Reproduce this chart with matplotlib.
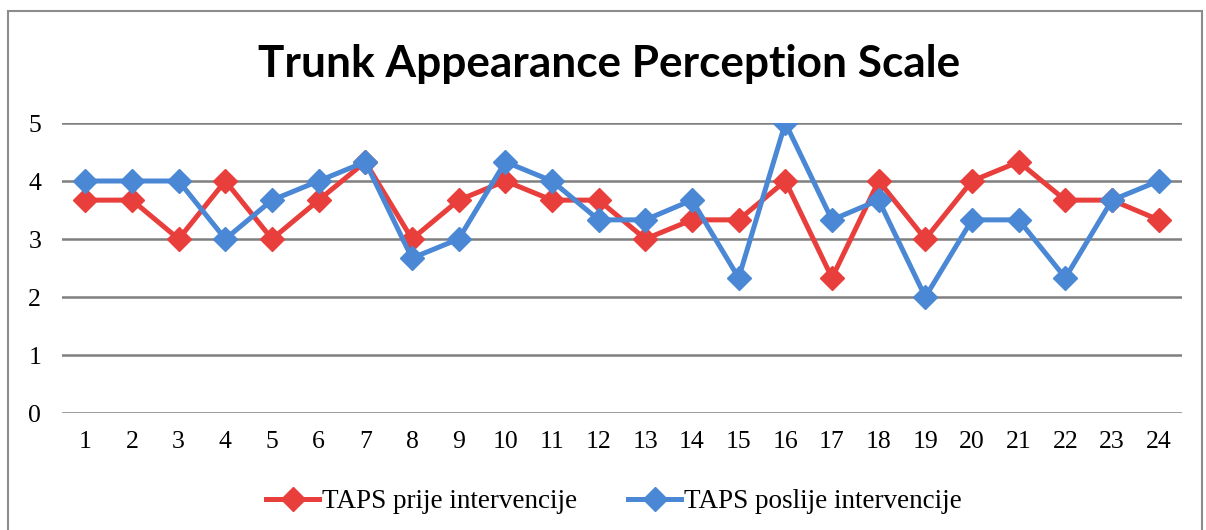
import matplotlib
matplotlib.use("Agg")
import matplotlib.pyplot as plt
from matplotlib.patches import Rectangle

categories = [str(i) for i in range(1, 25)]
prije = [3.67, 3.67, 3, 4, 3, 3.67, 4.33, 3, 3.67, 4, 3.67, 3.67, 3, 3.33, 3.33, 4,
         2.33, 4, 3, 4, 4.33, 3.67, 3.67, 3.33]
poslije = [4, 4, 4, 3, 3.67, 4, 4.33, 2.67, 3, 4.33, 4, 3.33, 3.33, 3.67, 2.33, 5,
           3.33, 3.67, 2, 3.33, 3.33, 2.33, 3.67, 4]
yticks = [0, 1, 2, 3, 4, 5]
title = "Trunk Appearance Perception Scale"
labels = ["TAPS prije intervencije", "TAPS poslije intervencije"]

RED = "#E83E3C"
BLUE = "#4A87D5"

fig = plt.figure(figsize=(12.06, 5.30), dpi=100)
fig.patches.append(Rectangle((8/1206, -0.01), (1202-8)/1206, (530-11)/530 + 0.01,
                             transform=fig.transFigure, fill=False,
                             edgecolor="#8c8c8c", linewidth=1.5))
ax = fig.add_axes([62/1206, (530-413)/530, (1182-62)/1206, (413-123)/530])
x = list(range(1, 25))
ax.plot(x, prije, color=RED, lw=3.6, marker="D", ms=12, label=labels[0], zorder=3)
ax.plot(x, poslije, color=BLUE, lw=3.6, marker="D", ms=12, label=labels[1], zorder=4)
ax.set_xlim(0.5, 24.5)
ax.set_ylim(0, 5)
ax.set_yticks(yticks)
ax.set_xticks(x)
ax.set_xticklabels(categories)
for s in ax.spines.values():
    s.set_visible(False)
ax.yaxis.grid(True, color="#7f7f7f", lw=1.8)
ax.set_axisbelow(True)
ax.tick_params(length=0, labelsize=18.5)
for t in ax.get_xticklabels() + ax.get_yticklabels():
    t.set_family("Liberation Serif")
ax.tick_params(axis="y", pad=15)
ax.tick_params(axis="x", pad=13)
fig.text(609/1206, (530-64)/530, title, ha="center", va="center",
         fontsize=31.8, fontweight="bold", family="Lato")
fig.legend(loc="center", bbox_to_anchor=(614/1206, (530-502)/530), ncol=2,
           frameon=False, prop={"family": "Liberation Serif", "size": 19.5},
           handlelength=1.95, columnspacing=1.9, handletextpad=0.1)
fig.savefig("out.png", dpi=100)
